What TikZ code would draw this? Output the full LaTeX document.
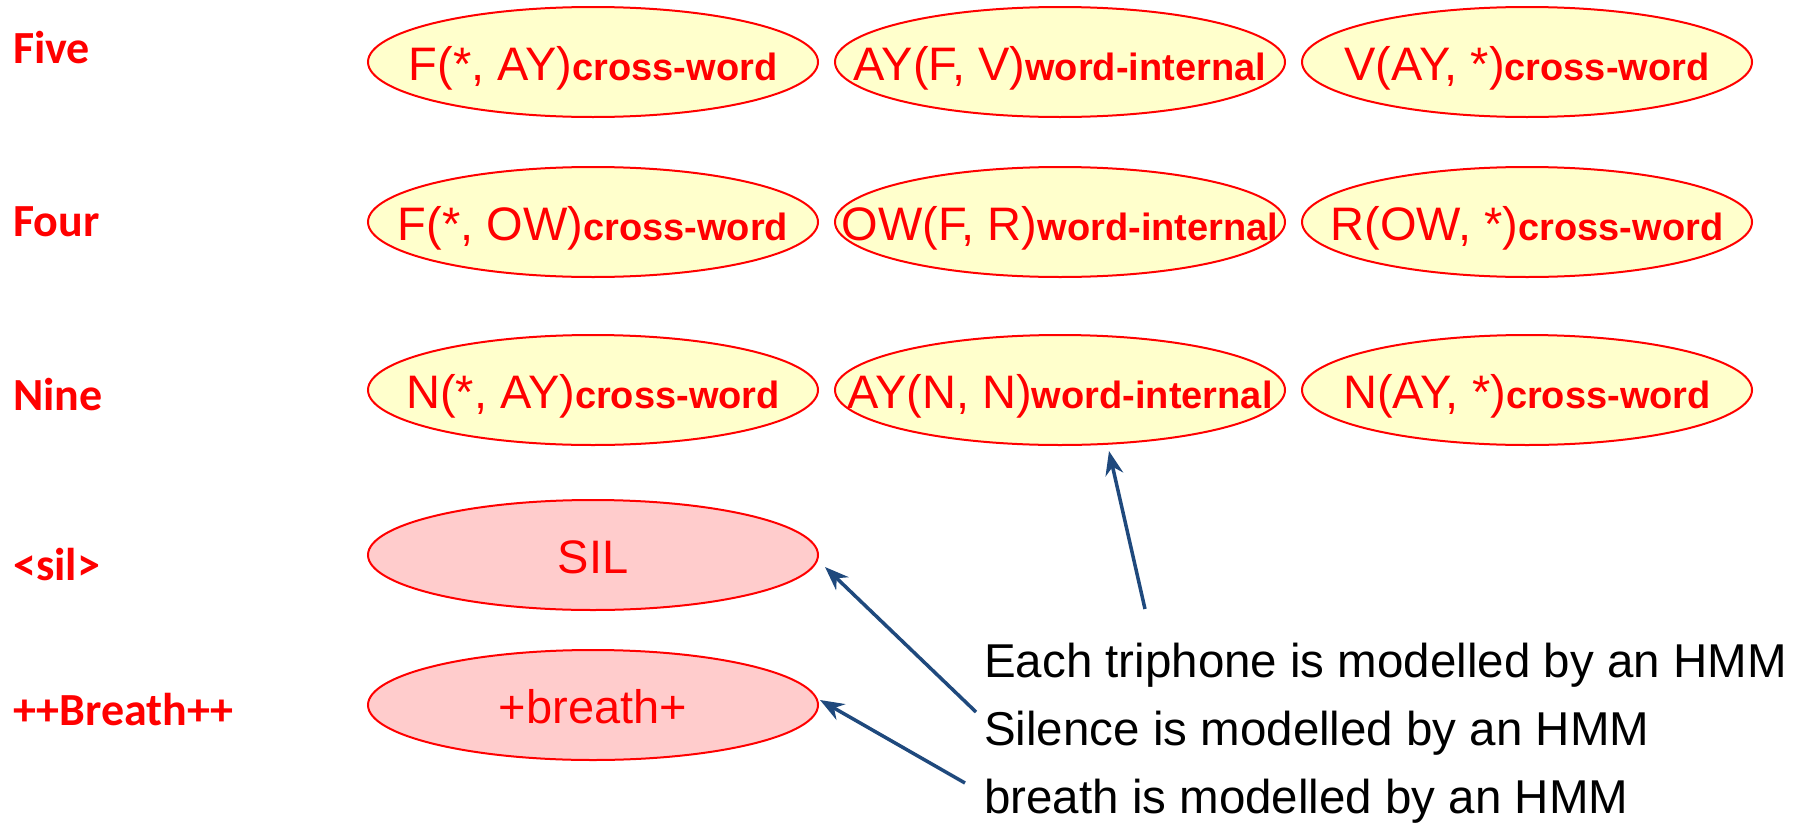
\documentclass[tikz,border=0pt]{standalone}
\usepackage{fontspec}
\setmainfont{Liberation Sans}
\newfontfamily\calib{Carlito}
\usetikzlibrary{shapes.geometric,arrows.meta}
\definecolor{ellfill}{RGB}{255,255,204}
\definecolor{pinkfill}{RGB}{255,204,204}
\definecolor{arrblue}{RGB}{31,73,125}
\newcommand\tphone[2]{\raisebox{-18pt}[0pt][0pt]{\makebox[0pt]{\color{red}\fontsize{47}{50}\selectfont #1\fontsize{38}{40}\selectfont\bfseries #2}}}
\newcommand\single[1]{\raisebox{-18pt}[0pt][0pt]{\makebox[0pt]{\color{red}\fontsize{47}{50}\selectfont #1}}}
\begin{document}
\begin{tikzpicture}[x=1pt,y=-1pt,
  tri/.style={ellipse, draw=red, line width=2pt, fill=ellfill, minimum width=450pt, minimum height=110pt, inner sep=0pt},
  silb/.style={tri, fill=pinkfill},
  wlabel/.style={anchor=base west, text=red, font=\calib\bfseries\fontsize{46}{50}\selectfont, inner sep=0pt},
  note/.style={anchor=base west, font=\fontsize{47.5}{50}\selectfont, inner sep=0pt},
  arr/.style={draw=arrblue, line width=3.5pt, -{Stealth[length=24pt,width=18pt]}}
]
\useasboundingbox (0,0) rectangle (1804,822);

% word labels
\node[wlabel] (lfive) at (13,63) {Five};
\node[wlabel] (lfour) at (13,236) {Four};
\node[wlabel] (lnine) at (13,410) {Nine};
\node[wlabel] (lsil) at (13,580) {<sil>};
\node[wlabel] (lbreath) at (13,725) {++Breath++};

% triphones
\node[tri] (f1) at (593,62) {\tphone{F(*, AY)}{cross-word}};
\node[tri] (f2) at (1060,62) {\tphone{AY(F, V)}{word-internal}};
\node[tri] (f3) at (1527,62) {\tphone{V(AY, *)}{cross-word}};

\node[tri] (o1) at (593,222) {\tphone{F(*, OW)}{cross-word}};
\node[tri] (o2) at (1060,222) {\tphone{OW(F, R)}{word-internal}};
\node[tri] (o3) at (1527,222) {\tphone{R(OW, *)}{cross-word}};

\node[tri] (n1) at (593,390) {\tphone{N(*, AY)}{cross-word}};
\node[tri] (n2) at (1060,390) {\tphone{AY(N, N)}{word-internal}};
\node[tri] (n3) at (1527,390) {\tphone{N(AY, *)}{cross-word}};

\node[silb] (sil) at (593,555) {\single{SIL}};
\node[silb] (br) at (593,705) {\single{+breath+}};

% notes
\node[note] (t1) at (984,677) {Each triphone is modelled by an HMM};
\node[note] (t2) at (984,745) {Silence is modelled by an HMM};
\node[note] (t3) at (984,813) {breath is modelled by an HMM};

% arrows
\coordinate (c1) at (1145,609);
\coordinate (c2) at (976,712);
\coordinate (c3) at (965,783);
\draw[arr] (c1) -- ([xshift=49pt,yshift=-5pt]n2.south);
\draw[arr] (c2) -- ([xshift=6pt,yshift=-12pt]sil.east);
\draw[arr] (c3) -- ([xshift=1pt,yshift=5pt]br.east);
\end{tikzpicture}
\end{document}
